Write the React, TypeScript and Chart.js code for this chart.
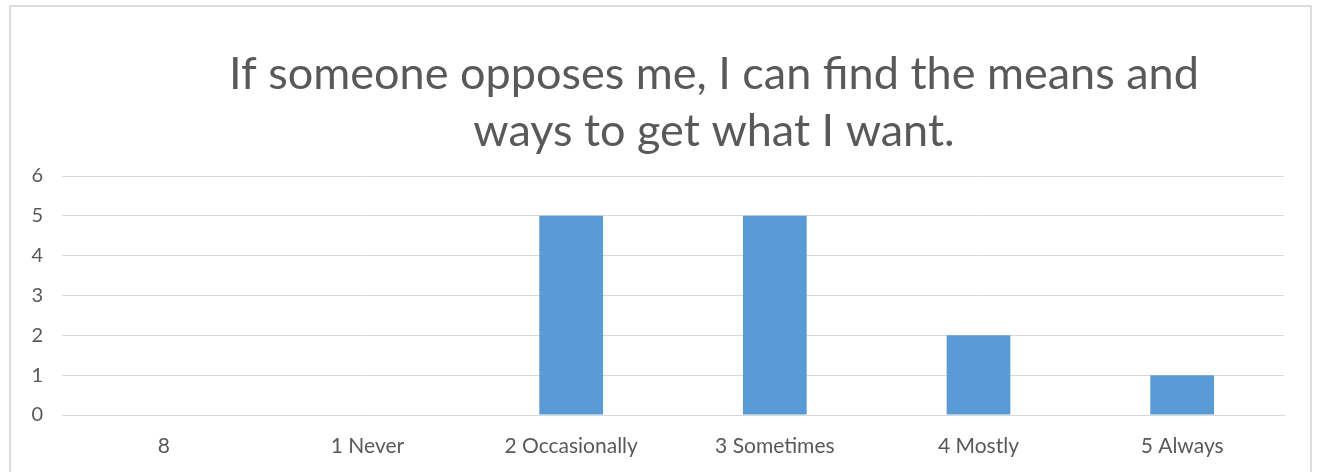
import React, { useEffect, useRef } from "react";
import { Chart, registerables } from "chart.js";

Chart.register(...registerables);

const categories = ["8", "1 Never", "2 Occasionally", "3 Sometimes", "4 Mostly", "5 Always"];
const counts = [0, 0, 5, 5, 2, 1];
const yTicks = [0, 1, 2, 3, 4, 5, 6];
const titleLines = ["If someone opposes me, I can find the means and", "ways to get what I want."];

const FONT = "Lato, 'Open Sans', sans-serif";
const TEXT = "#595959";
const GRID = "#d9d9d9";

const titlePlugin = {
  id: "manualTitle",
  afterDraw(chart: any) {
    const ctx = chart.ctx;
    ctx.save();
    ctx.fillStyle = TEXT;
    ctx.textAlign = "center";
    ctx.textBaseline = "alphabetic";
    ctx.font = `45px ${FONT}`;
    const cx = 703;
    ctx.fillText(titleLines[0], cx, 82);
    ctx.fillText(titleLines[1], cx, 139);
    ctx.restore();
  },
};

export default function App() {
  const ref = useRef<HTMLCanvasElement | null>(null);
  useEffect(() => {
    if (!ref.current) return;
    const chart = new Chart(ref.current, {
      type: "bar",
      data: {
        labels: categories,
        datasets: [
          {
            data: counts,
            backgroundColor: "#5b9bd5",
            borderWidth: 0,
            barPercentage: 0.313,
            categoryPercentage: 1,
          },
        ],
      },
      options: {
        animation: false,
        responsive: false,
        maintainAspectRatio: false,
        layout: { padding: { left: 0, right: 26, top: 169, bottom: 0 } },
        plugins: {
          legend: { display: false },
          title: { display: false },
          tooltip: { enabled: false },
        },
        scales: {
          x: {
            grid: { display: false, drawTicks: false },
            border: { display: true, color: GRID, width: 1 },
            ticks: {
              color: TEXT,
              font: { family: FONT, size: 21 },
              padding: 19,
              maxRotation: 0,
              autoSkip: false,
            },
            afterFit(scale: any) {
              scale.height = 68;
            },
          },
          y: {
            min: 0,
            max: 6,
            afterBuildTicks(scale: any) {
              scale.ticks = yTicks.map((v) => ({ value: v }));
            },
            grid: { color: GRID, lineWidth: 1, drawTicks: false },
            border: { display: false },
            ticks: {
              color: TEXT,
              font: { family: FONT, size: 20 },
              padding: 19,
              stepSize: 1,
            },
            afterFit(scale: any) {
              scale.width = 51;
            },
          },
        },
      },
      plugins: [titlePlugin],
    });
    return () => chart.destroy();
  }, []);

  return (
    <div
      style={{
        position: "fixed",
        left: 9,
        top: 5,
        width: 1303,
        height: 480,
        boxSizing: "border-box",
        border: "2px solid #dcdcdc",
        background: "#fff",
      }}
    >
      <canvas ref={ref} width={1299} height={476} style={{ display: "block", width: 1299, height: 476 }} />
    </div>
  );
}
